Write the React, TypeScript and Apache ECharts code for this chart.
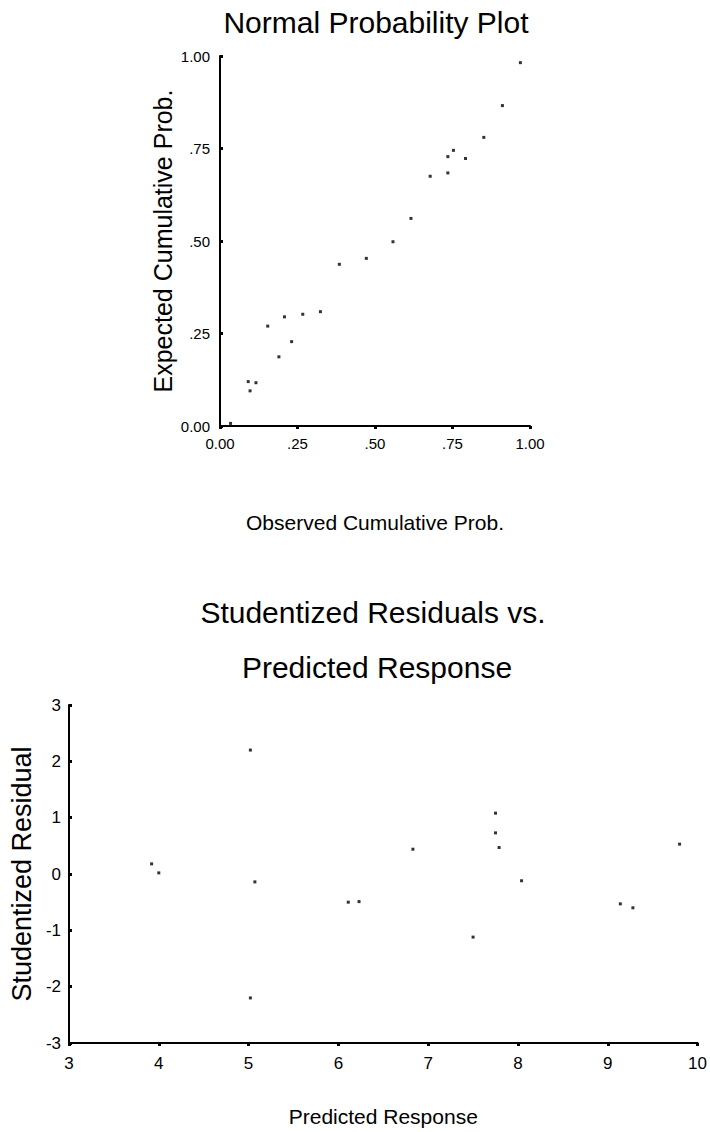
import React, { useEffect, useRef } from "react";
import * as echarts from "echarts";

const FONT = "'Liberation Sans', Arial, sans-serif";

// Normal probability plot data
const observedCumProb = [0.034, 0.091, 0.097, 0.116, 0.154, 0.19, 0.208, 0.231, 0.267, 0.324, 0.385, 0.472, 0.558, 0.616, 0.678, 0.735, 0.735, 0.753, 0.792, 0.851, 0.911, 0.969];
const expectedCumProb = [0.007, 0.12, 0.095, 0.117, 0.27, 0.187, 0.295, 0.228, 0.302, 0.309, 0.437, 0.453, 0.498, 0.561, 0.675, 0.684, 0.728, 0.745, 0.723, 0.78, 0.866, 0.982];
const probTickLabels = ["0.00", ".25", ".50", ".75", "1.00"];

// Residuals vs predicted data
const predictedResponse = [5.02, 3.92, 4.0, 5.07, 6.11, 6.23, 5.02, 7.75, 7.75, 7.79, 6.83, 9.8, 8.04, 9.14, 9.28, 7.5];
const studentizedResidual = [2.2, 0.18, 0.02, -0.14, -0.5, -0.49, -2.2, 1.08, 0.73, 0.47, 0.44, 0.53, -0.12, -0.53, -0.6, -1.12];

const title1 = "Normal Probability Plot";
const title2a = "Studentized Residuals vs.";
const title2b = "Predicted Response";

export default function App() {
  const ref = useRef<HTMLDivElement>(null);
  useEffect(() => {
    if (!ref.current) return;
    const chart = echarts.init(ref.current, null, { renderer: "svg" });
    const axisLine = { show: true, onZero: false, lineStyle: { color: "#000", width: 2 } };
    const probFmt = (v: number) => probTickLabels[Math.round(v / 0.25)] ?? "";
    const nameStyle = (size: number) => ({ fontFamily: FONT, fontSize: size, color: "#000" });
    const textStyleBase = { fontFamily: FONT, fill: "#000", textAlign: "center", textVerticalAlign: "top", align: "center", verticalAlign: "top" };
    chart.setOption({
      animation: false,
      backgroundColor: "#fff",
      textStyle: { fontFamily: FONT },
      graphic: [
        { type: "text", x: 376, y: 7, style: { ...textStyleBase, text: title1, fontSize: 30 } },
        { type: "text", x: 373, y: 597, style: { ...textStyleBase, text: title2a, fontSize: 30 } },
        { type: "text", x: 377, y: 652, style: { ...textStyleBase, text: title2b, fontSize: 30 } },
      ],
      grid: [
        { left: 220, top: 56, width: 310, height: 370 },
        { left: 59, top: 705, width: 640, height: 338 },
      ],
      xAxis: [
        {
          gridIndex: 0, type: "value", min: 0, max: 1, interval: 0.25,
          name: "Observed Cumulative Prob.", nameLocation: "middle", nameGap: 86, nameTextStyle: nameStyle(21),
          axisLine, splitLine: { show: false },
          axisTick: { show: true, inside: false, length: 3, lineStyle: { color: "#000", width: 3 } },
          axisLabel: { formatter: probFmt, fontSize: 15, color: "#000", margin: 10, fontFamily: FONT },
        },
        {
          gridIndex: 1, type: "value", min: 3, max: 10, interval: 1,
          name: "Predicted Response", nameLocation: "middle", nameGap: 63, nameTextStyle: nameStyle(21),
          axisLine, splitLine: { show: false },
          axisTick: { show: true, inside: false, length: 3, lineStyle: { color: "#000", width: 3 } },
          axisLabel: { fontSize: 17, color: "#000", margin: 12, fontFamily: FONT },
        },
      ],
      yAxis: [
        {
          gridIndex: 0, type: "value", min: 0, max: 1, interval: 0.25,
          name: "Expected Cumulative Prob.", nameLocation: "middle", nameGap: 45, nameTextStyle: nameStyle(25),
          axisLine, splitLine: { show: false },
          axisTick: { show: true, inside: true, length: 3, lineStyle: { color: "#000", width: 3 } },
          axisLabel: { formatter: probFmt, fontSize: 15, color: "#000", margin: 10, fontFamily: FONT },
        },
        {
          gridIndex: 1, type: "value", min: -3, max: 3, interval: 1,
          name: "Studentized Residual", nameLocation: "middle", nameGap: 25, nameTextStyle: nameStyle(27),
          axisLine, splitLine: { show: false },
          axisTick: { show: true, inside: true, length: 3, lineStyle: { color: "#000", width: 3 } },
          axisLabel: { fontSize: 17, color: "#000", margin: 8, fontFamily: FONT },
        },
      ],
      series: [
        {
          type: "scatter", xAxisIndex: 0, yAxisIndex: 0, symbol: "rect", symbolSize: 3,
          itemStyle: { color: "#000" },
          data: observedCumProb.map((x, i) => [x, expectedCumProb[i]]),
        },
        {
          type: "scatter", xAxisIndex: 1, yAxisIndex: 1, symbol: "rect", symbolSize: 3,
          itemStyle: { color: "#000" },
          data: predictedResponse.map((x, i) => [x, studentizedResidual[i]]),
        },
      ],
    });
    return () => chart.dispose();
  }, []);
  return <div ref={ref} style={{ position: "absolute", left: 0, top: 0, width: 710, height: 1132, background: "#fff" }} />;
}
